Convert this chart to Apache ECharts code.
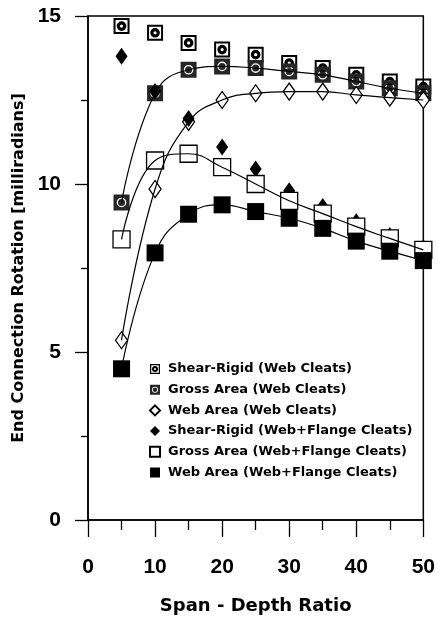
<!DOCTYPE html>
<html>
<head>
<meta charset="utf-8">
<script src="https://cdn.jsdelivr.net/npm/echarts@6/dist/echarts.min.js"></script>
<style>
  html, body { margin: 0; padding: 0; background: #fff; }
  #chart { width: 438px; height: 620px; }
</style>
</head>
<body>
<div id="chart"></div>
<script>
// Span-to-depth ratios at which the connections were evaluated
const spanDepth = [5, 10, 15, 20, 25, 30, 35, 40, 45, 50];

// End connection rotation [milliradians]
const shearRigidWeb    = [14.7, 14.5, 14.2, 14.0, 13.85, 13.6, 13.45, 13.25, 13.05, 12.9];
const grossAreaWeb     = [9.45, 12.7, 13.4, 13.5, 13.45, 13.35, 13.25, 13.05, 12.85, 12.7];
const webAreaWeb       = [5.35, 9.85, 11.85, 12.5, 12.7, 12.75, 12.75, 12.65, 12.57, 12.5];
const shearRigidFlange = [13.8, 12.75, 11.95, 11.1, 10.45, 9.8, 9.33, 8.88, 8.47, 8.1];
const grossAreaFlange  = [8.35, 10.7, 10.9, 10.5, 10.0, 9.5, 9.12, 8.73, 8.38, 8.04];
const webAreaFlange    = [4.5, 7.95, 9.1, 9.38, 9.18, 8.98, 8.68, 8.3, 8.0, 7.72];

const seriesNames = [
  'Shear-Rigid (Web Cleats)',
  'Gross Area (Web Cleats)',
  'Web Area (Web Cleats)',
  'Shear-Rigid (Web+Flange Cleats)',
  'Gross Area (Web+Flange Cleats)',
  'Web Area (Web+Flange Cleats)'
];

const xTicks = { min: 0, max: 50, step: 10 };
const yTicks = { min: 0, max: 15, step: 5 };

function pairs(values) {
  return spanDepth.map((x, i) => [x, values[i]]);
}

// Square outline holding a solid disc with a small hole
const boxedDot = 'path://M0 0L20 0L20 20L0 20Z' +
  'M2.5 2.5L2.5 17.5L17.5 17.5L17.5 2.5Z' +
  'M4 10A6 6 0 1 1 16 10A6 6 0 1 1 4 10Z' +
  'M8 10A2 2 0 1 0 12 10A2 2 0 1 0 8 10Z';
// Dark square with a pale ring
const ringBox = 'path://M0 0L20 0L20 20L0 20Z' +
  'M4 10A6 6 0 1 0 16 10A6 6 0 1 0 4 10Z' +
  'M5.6 10A4.4 4.4 0 1 1 14.4 10A4.4 4.4 0 1 1 5.6 10Z';

const labelFont = "'Liberation Sans', Arial, sans-serif";
const titleFont = "'DejaVu Sans', 'Liberation Sans', sans-serif";

function marks(name, values, symbol, size, fill, z) {
  return {
    name: name,
    type: 'scatter',
    data: pairs(values),
    symbol: symbol,
    symbolSize: size,
    itemStyle: { color: fill, borderColor: '#000', borderWidth: fill === '#fff' ? 1.3 : 0, opacity: 1 },
    z: z
  };
}

function curve(values) {
  return {
    name: 'fit',
    type: 'line',
    data: pairs(values),
    smooth: 0.45,
    showSymbol: false,
    symbol: 'none',
    silent: true,
    lineStyle: { color: '#000', width: 1.2 },
    z: 10
  };
}

const chart = echarts.init(document.getElementById('chart'), null, { renderer: 'canvas' });

chart.setOption({
  animation: false,
  backgroundColor: '#fff',
  grid: {
    left: 88, right: 11, top: 16, bottom: 100,
    show: true, borderColor: '#000', borderWidth: 1.5, backgroundColor: 'transparent'
  },
  xAxis: {
    type: 'value',
    min: xTicks.min, max: xTicks.max, interval: xTicks.step,
    name: 'Span - Depth Ratio',
    nameLocation: 'middle',
    nameGap: 77,
    nameTextStyle: { fontFamily: titleFont, fontWeight: 'bold', fontSize: 18, color: '#000' },
    axisLine: { lineStyle: { color: '#000', width: 1.5 } },
    axisTick: { show: true, length: 17, lineStyle: { color: '#000', width: 1.3 } },
    minorTick: { show: true, splitNumber: 2, length: 10, lineStyle: { color: '#000', width: 1.3 } },
    axisLabel: { margin: 37, fontFamily: labelFont, fontWeight: 'bold', fontSize: 21, color: '#000' },
    splitLine: { show: false }
  },
  yAxis: {
    type: 'value',
    min: yTicks.min, max: yTicks.max, interval: yTicks.step,
    name: 'End Connection Rotation [milliradians]',
    nameLocation: 'middle',
    nameGap: 55,
    nameTextStyle: { fontFamily: titleFont, fontWeight: 'bold', fontSize: 16, color: '#000' },
    axisLine: { lineStyle: { color: '#000', width: 1.5 } },
    axisTick: { show: true, length: 13, lineStyle: { color: '#000', width: 1.3 } },
    minorTick: { show: true, splitNumber: 2, length: 7, lineStyle: { color: '#000', width: 1.3 } },
    axisLabel: { margin: 27, fontFamily: labelFont, fontWeight: 'bold', fontSize: 21, color: '#000' },
    splitLine: { show: false }
  },
  legend: {
    data: seriesNames,
    orient: 'vertical',
    left: 144,
    top: 357,
    itemWidth: 10,
    itemHeight: 10,
    itemGap: 6.7,
    symbolKeepAspect: true,
    textStyle: {
      fontFamily: titleFont, fontWeight: 'bold', fontSize: 13, color: '#000',
      lineHeight: 14, padding: [0, 0, 0, 3]
    }
  },
  series: [
    marks(seriesNames[0], shearRigidWeb, boxedDot, 16, '#000', 2),
    marks(seriesNames[1], grossAreaWeb, ringBox, 16, '#262626', 3),
    marks(seriesNames[2], webAreaWeb, 'diamond', [12, 17], '#fff', 4),
    marks(seriesNames[3], shearRigidFlange, 'diamond', [12, 17], '#000', 5),
    marks(seriesNames[4], grossAreaFlange, 'rect', 17, '#fff', 6),
    marks(seriesNames[5], webAreaFlange, 'rect', 17, '#000', 7),
    curve(grossAreaWeb),
    curve(webAreaWeb),
    curve(grossAreaFlange),
    curve(webAreaFlange)
  ]
});
</script>
</body>
</html>
